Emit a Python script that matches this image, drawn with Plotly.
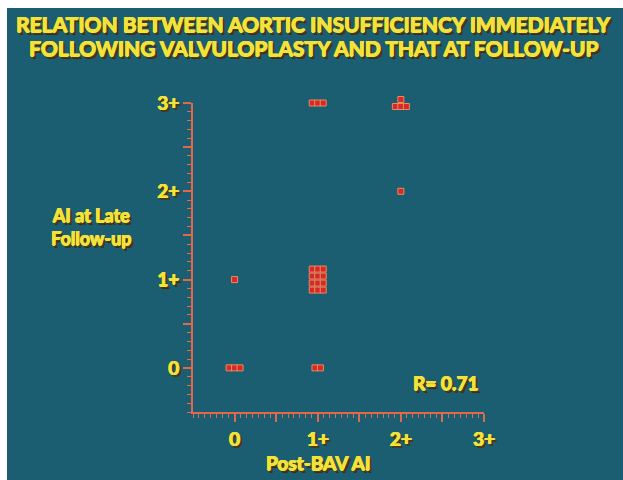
import math
import plotly.graph_objects as go

# ---- data ----
post_bav_ai = [0, 1, 0, 1, 2, 1, 2]          # x: Post-BAV AI grade
late_ai = [0, 0, 1, 1, 2, 3, 3]              # y: AI at late follow-up grade
patients = [3, 2, 1, 12, 1, 3, 4]            # number of patients in each cell
tick_vals = [0, 1, 2, 3]
tick_labels = ["0", "1+", "2+", "3+"]
r_text = "R= 0.71"

W, H = 623, 480
ML, MR, MT, MB = 193, 139, 83, 68           # plot area incl. 20px headroom above 3+
X_RANGE = [-0.5, 3.0]
Y_RANGE = [-0.5, 3.0]
PW, PH = W - ML - MR, H - MT - MB
VIS_H = 309                                  # visible y-axis length in px
Y_DOM_TOP = VIS_H / PH
Y2_RANGE = [Y_RANGE[0], Y_RANGE[0] + (Y_RANGE[1] - Y_RANGE[0]) * PH / VIS_H]
DX = 5.5 / PW * (X_RANGE[1] - X_RANGE[0])   # one square width in data units
DY = 7.0 / VIS_H * (Y_RANGE[1] - Y_RANGE[0])  # one square height in data units

BG = "#1b5d71"
YELLOW = "#f3e23a"
AXIS = "#e0694c"
FONT = "Lato, DejaVu Sans, sans-serif"
SHADOW = ("0.7px 0 0 #f3e23a, -0.5px 0 0 #f3e23a, 0 0.5px 0 #f3e23a, "
          "2px 2px 0px #4a3a18, 2.5px 2.5px 0px #3a2e14")

# expand each cell count into a block of small squares (3 per row, filled from bottom)
px, py = [], []
for xv, yv, n in zip(post_bav_ai, late_ai, patients):
    rows = math.ceil(n / 3)
    for k in range(n):
        r = k // 3
        in_row = min(3, n - r * 3)
        c = k % 3
        xo = (c - (in_row - 1) / 2) * DX
        yo = (r - (rows - 1) / 2) * DY
        px.append(xv + xo)
        py.append(yv + yo)

fig = go.Figure()
# empty trace that anchors the visible axes subplot
fig.add_trace(go.Scatter(x=[None], y=[None], xaxis="x", yaxis="y", mode="markers",
                         hoverinfo="skip", showlegend=False))
fig.add_trace(go.Scatter(
    x=px, y=py, mode="markers", xaxis="x", yaxis="y2",
    marker=dict(symbol="square", size=6, color="#d42a2a",
                line=dict(color="#ec8a5a", width=1)),
    hoverinfo="skip", showlegend=False, cliponaxis=False,
))

tick_font = dict(family=FONT, size=19, color=YELLOW, weight="bold", shadow=SHADOW)

def axis_common():
    return dict(
        showgrid=False, zeroline=False, showline=True, linecolor=AXIS, linewidth=2,
        ticks="outside", ticklen=8, tickwidth=1.5, tickcolor=AXIS,
        tickfont=tick_font, fixedrange=True,
    )

half_vals = [v / 2 for v in range(0, 7)]
half_text = [tick_labels[int(v)] if v == int(v) else "" for v in half_vals]

fig.update_layout(
    xaxis=dict(**axis_common(), range=X_RANGE, tickvals=half_vals, ticktext=half_text,
               ticklabelstandoff=1, anchor="y",
               minor=dict(ticks="outside", ticklen=4, tickcolor=AXIS, tickwidth=1.2,
                          tick0=0, dtick=1 / 14)),
    yaxis=dict(**axis_common(), range=Y_RANGE, tickvals=half_vals, ticktext=half_text,
               domain=[0, Y_DOM_TOP], anchor="x",
               minor=dict(ticks="outside", ticklen=4, tickcolor=AXIS, tickwidth=1.2,
                          tick0=0, dtick=0.1)),
    yaxis2=dict(range=Y2_RANGE, domain=[0, 1], anchor="x", visible=False,
                showgrid=False, zeroline=False, fixedrange=True),
)

title_font = dict(family=FONT, size=21, color=YELLOW, weight="bold", shadow=SHADOW)
lab_font = dict(family=FONT, size=19, color=YELLOW, weight="bold", shadow=SHADOW)
ylab_font = dict(family=FONT, size=18, color=YELLOW, weight="bold", shadow=SHADOW)

def pxx(x):
    return (x - ML) / PW

def pxy(y):
    return (H - MB - y) / PH

annotations = [
    dict(text="RELATION BETWEEN AORTIC INSUFFICIENCY IMMEDIATELY",
         x=pxx(313), y=pxy(23), xref="paper", yref="paper",
         showarrow=False, font=title_font, xanchor="center", yanchor="middle"),
    dict(text="FOLLOWING VALVULOPLASTY AND THAT AT FOLLOW-UP",
         x=pxx(313), y=pxy(48), xref="paper", yref="paper",
         showarrow=False, font=title_font, xanchor="center", yanchor="middle"),
    dict(text="AI at Late<br>Follow-up",
         x=pxx(91), y=pxy(226), xref="paper", yref="paper",
         showarrow=False, font=ylab_font, xanchor="center", yanchor="middle", align="center"),
    dict(text="Post-BAV AI",
         x=pxx(318), y=pxy(462), xref="paper", yref="paper",
         showarrow=False, font=lab_font, xanchor="center", yanchor="middle"),
    dict(text=r_text,
         x=pxx(445), y=pxy(382), xref="paper", yref="paper",
         showarrow=False, font=lab_font, xanchor="center", yanchor="middle"),
]

# white slide border strips (top and left)
shapes = [
    dict(type="rect", xref="paper", yref="paper",
         x0=pxx(0), x1=pxx(W), y0=pxy(8), y1=pxy(0),
         fillcolor="white", line=dict(width=0), layer="above"),
    dict(type="rect", xref="paper", yref="paper",
         x0=pxx(0), x1=pxx(7), y0=pxy(H), y1=pxy(0),
         fillcolor="white", line=dict(width=0), layer="above"),
]

fig.update_layout(
    width=W, height=H, margin=dict(l=ML, r=MR, t=MT, b=MB, autoexpand=False),
    paper_bgcolor=BG, plot_bgcolor="rgba(0,0,0,0)",
    annotations=annotations, shapes=shapes, showlegend=False,
)

fig.write_html("out.html", config={"displayModeBar": False})
